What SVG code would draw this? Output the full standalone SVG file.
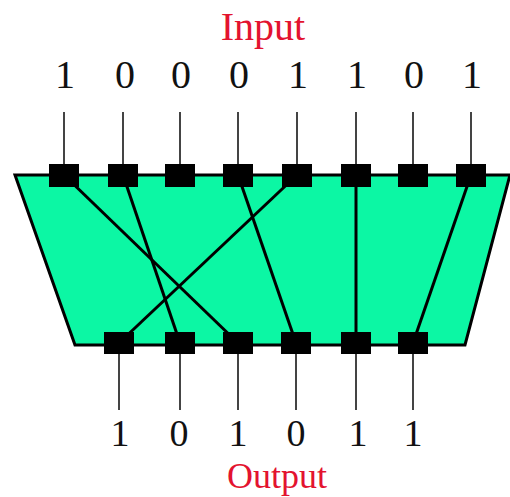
<svg xmlns="http://www.w3.org/2000/svg" width="510" height="497" viewBox="0 0 510 497">
<style>
.lbl{font-family:"Liberation Serif","Times New Roman",serif;font-size:40px;text-anchor:middle;fill:#111}
.title{font-family:"Liberation Serif","Times New Roman",serif;font-size:40px;text-anchor:middle;fill:#E3132F}
.stub{stroke:#444;stroke-width:2;fill:none}
.wire{stroke:#000;stroke-width:3;fill:none}
.port{fill:#000}
</style>
<rect width="510" height="497" fill="#fff"/>
<g id="box">
<polygon points="15,175 510,175 465,345 75,345" fill="#0CF7A4" stroke="#000" stroke-width="3" stroke-linejoin="miter"/>
</g>
<g id="connectors">
<line class="stub" x1="64" y1="112" x2="64" y2="175"/>
<line class="stub" x1="123" y1="112" x2="123" y2="175"/>
<line class="stub" x1="180" y1="112" x2="180" y2="175"/>
<line class="stub" x1="238" y1="112" x2="238" y2="175"/>
<line class="stub" x1="297" y1="112" x2="297" y2="175"/>
<line class="stub" x1="356" y1="112" x2="356" y2="175"/>
<line class="stub" x1="413" y1="112" x2="413" y2="175"/>
<line class="stub" x1="471" y1="112" x2="471" y2="175"/>
<line class="stub" x1="119" y1="343" x2="119" y2="410"/>
<line class="stub" x1="180" y1="343" x2="180" y2="410"/>
<line class="stub" x1="238" y1="343" x2="238" y2="410"/>
<line class="stub" x1="296" y1="343" x2="296" y2="410"/>
<line class="stub" x1="356" y1="343" x2="356" y2="410"/>
<line class="stub" x1="413" y1="343" x2="413" y2="410"/>
<line class="wire" x1="64" y1="175" x2="238" y2="343"/>
<line class="wire" x1="123" y1="175" x2="180" y2="343"/>
<line class="wire" x1="238" y1="175" x2="296" y2="343"/>
<line class="wire" x1="297" y1="175" x2="119" y2="343"/>
<line class="wire" x1="356" y1="175" x2="356" y2="343"/>
<line class="wire" x1="471" y1="175" x2="413" y2="343"/>
</g>
<g id="inputs">
<rect class="port" x="49" y="164" width="30" height="23"/>
<rect class="port" x="108" y="164" width="30" height="23"/>
<rect class="port" x="165" y="164" width="30" height="23"/>
<rect class="port" x="223" y="164" width="30" height="23"/>
<rect class="port" x="282" y="164" width="30" height="23"/>
<rect class="port" x="341" y="164" width="30" height="23"/>
<rect class="port" x="398" y="164" width="30" height="23"/>
<rect class="port" x="456" y="164" width="30" height="23"/>
</g>
<g id="outputs">
<rect class="port" x="104" y="332" width="30" height="22"/>
<rect class="port" x="165" y="332" width="30" height="22"/>
<rect class="port" x="223" y="332" width="30" height="22"/>
<rect class="port" x="281" y="332" width="30" height="22"/>
<rect class="port" x="341" y="332" width="30" height="22"/>
<rect class="port" x="398" y="332" width="30" height="22"/>
</g>
<g id="input-label">
<text class="title" x="263" y="40">Input</text>
<text class="lbl" x="65" y="88">1</text>
<text class="lbl" x="125" y="88">0</text>
<text class="lbl" x="181" y="88">0</text>
<text class="lbl" x="239" y="88">0</text>
<text class="lbl" x="298" y="88">1</text>
<text class="lbl" x="357" y="88">1</text>
<text class="lbl" x="414" y="88">0</text>
<text class="lbl" x="472" y="88">1</text>
</g>
<g id="output-label">
<text class="lbl" x="120" y="446" style="font-size:38px">1</text>
<text class="lbl" x="179" y="446" style="font-size:38px">0</text>
<text class="lbl" x="238" y="446" style="font-size:38px">1</text>
<text class="lbl" x="296" y="446" style="font-size:38px">0</text>
<text class="lbl" x="358" y="446" style="font-size:38px">1</text>
<text class="lbl" x="413" y="446" style="font-size:38px">1</text>
<text class="title" x="277" y="488" style="font-size:36px">Output</text>
</g>
</svg>
